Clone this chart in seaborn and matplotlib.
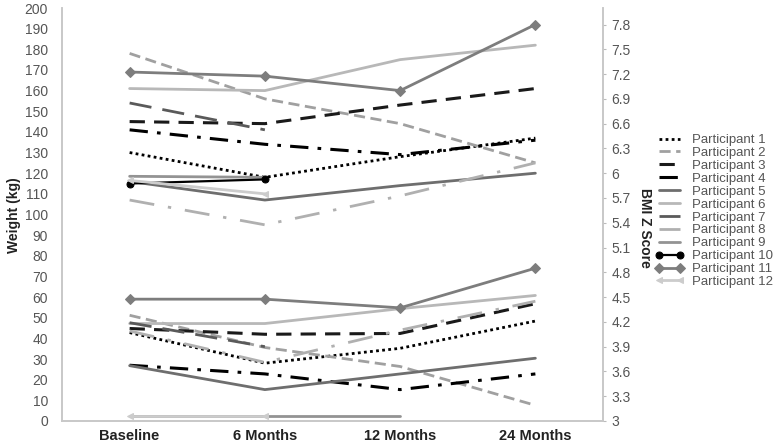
import numpy as np
import pandas as pd
import seaborn as sns
import matplotlib.pyplot as plt
from matplotlib.ticker import FixedLocator

# Данные
time_points = ['Baseline', '6 Months', '12 Months', '24 Months']
participants = ['Participant %d' % i for i in range(1, 13)]

# вес (кг), левая ось; nan = нет измерения
weight_p1 = [130, 118, 128, 137]
weight_p2 = [178, 156, 144, 125]
weight_p3 = [145, 144, 153, 161]
weight_p4 = [141, 134, 129, 136]
weight_p5 = [116, 107, 114, 120]
weight_p6 = [161, 160, 175, 182]
weight_p7 = [154, 141, np.nan, np.nan]
weight_p8 = [107, 95, 109, 125]
weight_p9 = [118.5, 118, np.nan, np.nan]
weight_p10 = [115, 117, np.nan, np.nan]
weight_p11 = [169, 167, 160, 192]
weight_p12 = [116.5, 110, np.nan, np.nan]

# BMI Z score, правая ось
bmi_p1 = [4.07, 3.70, 3.88, 4.21]
bmi_p2 = [4.28, 3.89, 3.66, 3.19]
bmi_p3 = [4.12, 4.05, 4.06, 4.42]
bmi_p4 = [3.675, 3.57, 3.38, 3.57]
bmi_p5 = [3.67, 3.38, 3.57, 3.76]
bmi_p6 = [4.18, 4.18, 4.36, 4.52]
bmi_p7 = [4.19, 3.90, np.nan, np.nan]
bmi_p8 = [4.09, 3.71, 4.10, 4.45]
bmi_p9 = [3.06, 3.06, 3.06, np.nan]
bmi_p10 = [np.nan, np.nan, np.nan, np.nan]
bmi_p11 = [4.475, 4.475, 4.37, 4.85]
bmi_p12 = [3.06, 3.06, np.nan, np.nan]

weights = [weight_p1, weight_p2, weight_p3, weight_p4, weight_p5, weight_p6,
           weight_p7, weight_p8, weight_p9, weight_p10, weight_p11, weight_p12]
bmis = [bmi_p1, bmi_p2, bmi_p3, bmi_p4, bmi_p5, bmi_p6,
        bmi_p7, bmi_p8, bmi_p9, bmi_p10, bmi_p11, bmi_p12]

# стиль линий: цвет, штрих, маркер, толщина
styles = [
    ('#000000', (0, (1, 1.2)), None, 2.0),
    ('#a0a0a0', (0, (4, 2)), None, 2.0),
    ('#1a1a1a', (0, (5, 3)), None, 2.2),
    ('#000000', (0, (6, 3, 1.2, 3)), None, 2.2),
    ('#6e6e6e', '-', None, 2.0),
    ('#b8b8b8', '-', None, 2.0),
    ('#5a5a5a', (0, (8, 4)), None, 2.0),
    ('#b0b0b0', (0, (9, 5, 1.2, 5)), None, 2.0),
    ('#939393', '-', None, 2.0),
    ('#000000', '-', 'o', 1.6),
    ('#7d7d7d', '-', 'D', 2.0),
    ('#cccccc', '-', '<', 2.0),
]

sns.set_style('white')
plt.rcParams['font.family'] = ['Liberation Sans', 'DejaVu Sans']

fig = plt.figure(figsize=(7.83, 4.45), dpi=100)
ax = fig.add_axes([62 / 783, 1 - 421 / 445, (603 - 62) / 783, (421 - 8) / 445])
ax2 = ax.twinx()

x = np.arange(len(time_points))
handles = []
for name, w, b, (col, ls, mk, lw) in zip(participants, weights, bmis, styles):
    dw = pd.DataFrame({'t': x, 'v': w}).dropna()
    sns.lineplot(data=dw, x='t', y='v', ax=ax, color=col, linestyle=ls, lw=lw,
                 marker=mk, markersize=5, markeredgecolor=col, label=name, legend=False)
    handles.append(ax.lines[-1])
    db = pd.DataFrame({'t': x, 'v': b}).dropna()
    if len(db):
        sns.lineplot(data=db, x='t', y='v', ax=ax2, color=col, linestyle=ls, lw=lw,
                     marker=mk, markersize=5, markeredgecolor=col, legend=False)

ax.set_xlim(-0.5, 3.5)
ax.set_ylim(0, 200)
ax2.set_ylim(3, 8.0)
ax.set_xticks(x)
ax.set_xticklabels(time_points, fontweight='bold', fontsize=10.5, color='#222222')
ax.set_yticks(np.arange(0, 201, 10))
ax.tick_params(axis='y', length=0, labelsize=10, labelcolor='#555555', pad=10)
ax.tick_params(axis='x', length=0, pad=6)
rt = np.round(np.arange(3, 7.81, 0.3), 1)
ax2.yaxis.set_major_locator(FixedLocator(rt))
ax2.set_yticklabels(['%g' % v for v in rt])
ax2.tick_params(axis='y', length=2, color='#bbbbbb', labelsize=10, labelcolor='#555555', pad=4)
ax.set_xlabel('')
ax.set_ylabel('')
ax2.set_ylabel('')

for a in (ax, ax2):
    a.spines['top'].set_visible(False)
    for s in ('left', 'bottom', 'right'):
        a.spines[s].set_color('#c8c8c8')
        a.spines[s].set_linewidth(1.2)

fig.text(14 / 783, 1 - 215 / 445, 'Weight (kg)', rotation=90, ha='center', va='center',
         fontweight='bold', fontsize=10, color='#222222')
fig.text(645 / 783, 1 - 228 / 445, 'BMI Z Score', rotation=270, ha='center', va='center',
         fontweight='bold', fontsize=10, color='#222222')

fig.legend(handles=handles, labels=participants, loc='center left',
           bbox_to_anchor=(655 / 783, 1 - 211 / 445), frameon=False, fontsize=9.5,
           labelcolor='#555555', handlelength=2.2, handletextpad=0.6, numpoints=2,
           labelspacing=0.05, borderpad=0, borderaxespad=0)

fig.savefig('out.png', dpi=100)
